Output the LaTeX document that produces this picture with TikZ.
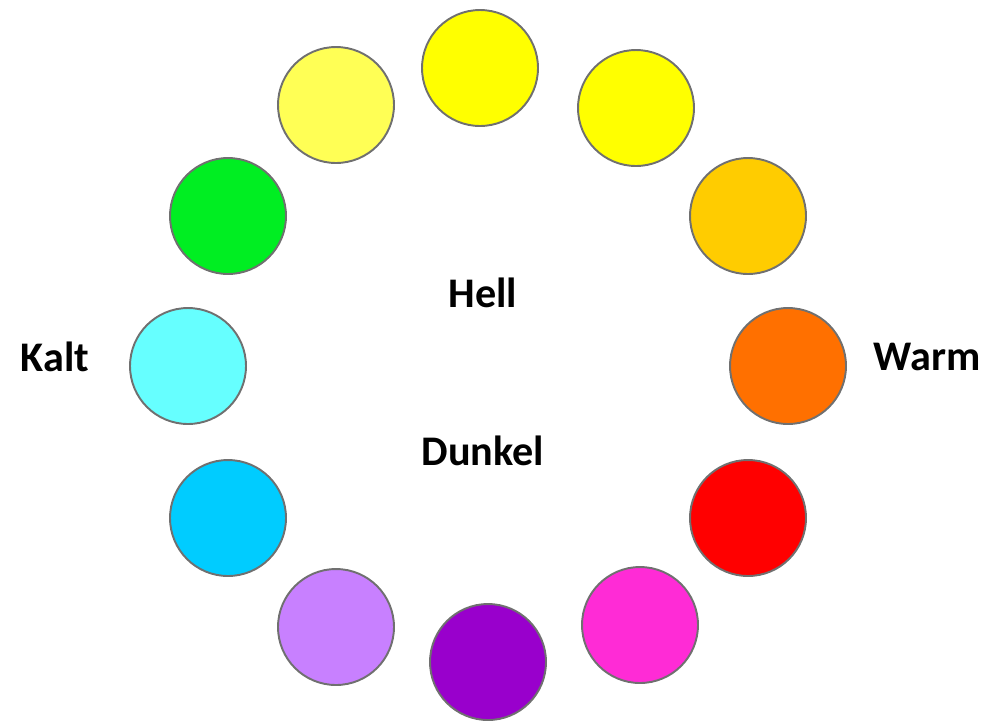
\documentclass[tikz,border=0pt]{standalone}
\usepackage{fontspec}
\setmainfont{Carlito}
\definecolor{lightyellow}{HTML}{FFFF55}
\definecolor{gelb}{HTML}{FFFF00}
\definecolor{goldgelb}{HTML}{FFCC00}
\definecolor{orange}{HTML}{FF7000}
\definecolor{rot}{HTML}{FF0000}
\definecolor{magenta}{HTML}{FF2BD6}
\definecolor{violett}{HTML}{9900CC}
\definecolor{lavendel}{HTML}{C880FF}
\definecolor{himmelblau}{HTML}{00CCFF}
\definecolor{hellcyan}{HTML}{66FFFF}
\definecolor{gruen}{HTML}{00EE22}
\definecolor{rand}{HTML}{707070}
\begin{document}
\begin{tikzpicture}[x=0.02cm, y=-0.02cm,
  every node/.style={font=\fontsize{24}{28}\selectfont\bfseries},
  farbkreis/.style={circle, draw=rand, line width=1.1pt, minimum size=2.32cm, inner sep=0pt}]
  \useasboundingbox (0,0) rectangle (1006,725);

  % circles
  \foreach \x/\y/\farbe [count=\i] in {480/68/gelb, 636/108/gelb, 748/216/goldgelb,
      788/366/orange, 748/518/rot, 640/625/magenta, 488/662/violett, 336/627/lavendel,
      228/518/himmelblau, 188/366/hellcyan, 228/216/gruen, 336/105/lightyellow}
    \node[farbkreis, fill=\farbe] (c\i) at (\x,\y) {};

  % labels
  \node (hell) at (483,293) {Hell};
  \node (dunkel) at (483,451) {Dunkel};
  \node (kalt) at (55,357) {Kalt};
  \node (warm) at (927,357) {Warm};
\end{tikzpicture}
\end{document}
